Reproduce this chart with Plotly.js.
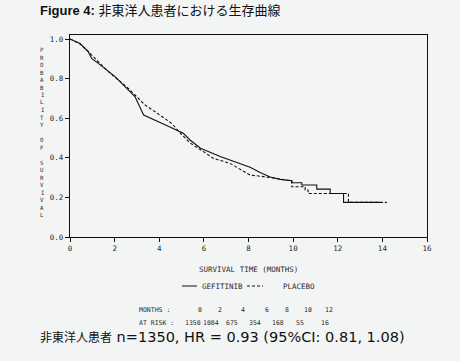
<!DOCTYPE html>
<html><head><meta charset="utf-8">
<script src="https://cdn.plot.ly/plotly-3.0.1.min.js"></script>
<style>html,body{margin:0;padding:0;background:#f3f5f5;}</style>
</head><body><div id="chart" style="width:460px;height:361px;"></div>
<script>
// ---- data ----
const gefitinibMonths = [0,0.45,0.82,0.97,1.27,2.02,2.91,3.3,4.11,4.71,5.08,5.38,5.85,6.73,7.17,8.07,8.52,8.97,9.42,9.94,9.94,10.39,10.39,11.06,11.06,11.66,11.66,12.26,12.26,13.9];
const gefitinibSurv   = [1.0,0.977,0.936,0.902,0.877,0.81,0.709,0.616,0.574,0.545,0.524,0.49,0.448,0.406,0.389,0.352,0.326,0.303,0.291,0.284,0.274,0.274,0.263,0.263,0.242,0.242,0.22,0.22,0.175,0.175];
const placeboMonths = [0,0.45,0.82,1.27,1.72,2.61,3.36,3.7,4.48,4.56,4.9,5.38,5.98,6.43,7.17,7.77,8.07,8.67,9.27,9.72,9.94,9.94,10.54,10.54,10.67,10.67,12.48,12.48,14.2];
const placeboSurv   = [1.0,0.975,0.936,0.886,0.835,0.751,0.667,0.641,0.58,0.574,0.53,0.475,0.431,0.397,0.372,0.33,0.313,0.305,0.296,0.288,0.284,0.254,0.254,0.237,0.237,0.22,0.22,0.175,0.175];
const seriesNames = ["GEFITINIB","PLACEBO"];
const riskMonths = ["0","2","4","6","8","10","12"];
const atRisk = ["1350","1084","675","354","168","55","16"];
const xTicks = [0,2,4,6,8,10,12,14,16];
const yTicks = [0,0.2,0.4,0.6,0.8,1.0];
const yLabel = "PROBABILITY OF SURVIVAL";
const xLabel = "SURVIVAL TIME (MONTHS)";

// ---- layout helpers (pixel -> paper) ----
const W=460,H=361,L=70,R=427,T=35,B=237;
const px=x=>(x-L)/(R-L);
const py=y=>(B-y)/(B-T);
const mono="DejaVu Sans Mono, Liberation Mono, monospace";
const ink="#2a2a2a";

const traces=[
 {x:gefitinibMonths,y:gefitinibSurv,mode:'lines',name:seriesNames[0],line:{color:'#111',width:1.1},showlegend:false},
 {x:placeboMonths,y:placeboSurv,mode:'lines',name:seriesNames[1],line:{color:'#111',width:1.1,dash:'3px,2px'},showlegend:false}
];

const ann=[];
// title
ann.push({xref:'paper',yref:'paper',x:px(38),y:py(11),xanchor:'left',yanchor:'middle',showarrow:false,
  text:'<b>Figure 4:</b> 非東洋人患者における生存曲線',font:{family:'Liberation Sans, Noto Sans CJK JP, sans-serif',size:13,color:'#111'}});
// vertical stacked y label
for(let i=0;i<yLabel.length;i++){
  const c=yLabel[i]; if(c===' ') continue;
  ann.push({xref:'paper',yref:'paper',x:px(42),y:py(50+i*7.5),xanchor:'center',yanchor:'middle',showarrow:false,borderpad:0,
    text:c,font:{family:mono,size:5.7,color:ink}});
}
// x title
ann.push({xref:'paper',yref:'paper',x:px(248),y:py(269),xanchor:'center',yanchor:'middle',showarrow:false,
  text:xLabel,font:{family:mono,size:7.5,color:ink}});
// legend texts
ann.push({xref:'paper',yref:'paper',x:px(200),y:py(286),xanchor:'left',yanchor:'middle',showarrow:false,text:seriesNames[0],font:{family:mono,size:7.5,color:ink}});
ann.push({xref:'paper',yref:'paper',x:px(281),y:py(286),xanchor:'left',yanchor:'middle',showarrow:false,text:seriesNames[1],font:{family:mono,size:7.5,color:ink}});
// risk table
ann.push({xref:'paper',yref:'paper',x:px(137),y:py(310),xanchor:'left',yanchor:'middle',showarrow:false,text:'MONTHS :',font:{family:mono,size:6.5,color:ink}});
ann.push({xref:'paper',yref:'paper',x:px(137),y:py(323),xanchor:'left',yanchor:'middle',showarrow:false,text:'AT RISK :',font:{family:mono,size:6.5,color:ink}});
const colX=[200,220,243,267,287,308,329];
const riskX=[193,211,232,255,278,300,325];
riskMonths.forEach((m,i)=>ann.push({xref:'paper',yref:'paper',x:px(colX[i]),y:py(310),xanchor:'center',yanchor:'middle',showarrow:false,text:m,font:{family:mono,size:6.5,color:ink}}));
atRisk.forEach((m,i)=>ann.push({xref:'paper',yref:'paper',x:px(riskX[i]),y:py(323),xanchor:'center',yanchor:'middle',showarrow:false,borderpad:0,text:m,font:{family:mono,size:6.5,color:ink}}));
// footer
ann.push({xref:'paper',yref:'paper',x:px(38),y:py(336),xanchor:'left',yanchor:'middle',showarrow:false,
  text:'<span style="font-family:Noto Sans CJK JP;font-size:12px">非東洋人患者</span> n=1350, HR = 0.93 (95%CI: 0.81, 1.08)',
  font:{family:'DejaVu Sans, sans-serif',size:14.5,color:'#111'}});

const shapes=[
 {type:'line',xref:'paper',yref:'paper',x0:px(182),x1:px(197),y0:py(286),y1:py(286),line:{color:'#111',width:1}},
 {type:'line',xref:'paper',yref:'paper',x0:px(247),x1:px(263),y0:py(286),y1:py(286),line:{color:'#111',width:1,dash:'3px,2px'}}
];

const layout={
 width:W,height:H,margin:{l:L,r:W-R,t:T,b:H-B,pad:0},
 paper_bgcolor:'#f3f5f5',plot_bgcolor:'#f3f5f5',showlegend:false,
 xaxis:{range:[0,16],tickvals:xTicks,ticktext:xTicks.map(String),showgrid:false,zeroline:false,showline:true,mirror:true,
   linecolor:'#111',linewidth:1.2,ticks:'outside',ticklen:4,tickcolor:'#111',tickfont:{family:mono,size:7.5,color:ink},fixedrange:true},
 yaxis:{range:[0,1.0202],tickvals:yTicks,ticktext:yTicks.map(v=>v.toFixed(1)),showgrid:false,zeroline:false,showline:true,mirror:true,
   linecolor:'#111',linewidth:1.2,ticks:'outside',ticklen:4,tickcolor:'#111',tickfont:{family:mono,size:7.5,color:ink},fixedrange:true},
 annotations:ann,shapes:shapes
};
Plotly.newPlot('chart',traces,layout,{staticPlot:true,displayModeBar:false});
</script></body></html>
